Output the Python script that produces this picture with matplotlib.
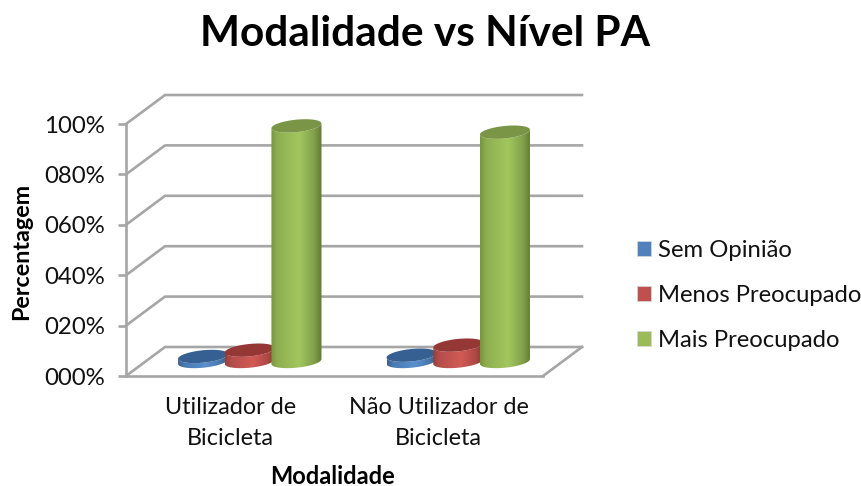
import numpy as np
import matplotlib
matplotlib.use("Agg")
import matplotlib.pyplot as plt
from matplotlib.patches import Patch, Polygon

plt.rcParams['font.family'] = ['Lato', 'DejaVu Sans']

########## Data ##########
categories = ["Utilizador de\nBicicleta", "Não Utilizador de\nBicicleta"]
series_names = ["Sem Opinião", "Menos Preocupado", "Mais Preocupado"]
sem_opiniao = [2.0, 2.5]
menos_preocupado = [4.5, 6.5]
mais_preocupado = [93.5, 91.0]
y_ticks = [0, 20, 40, 60, 80, 100]
y_labels = ["000%", "020%", "040%", "060%", "080%", "100%"]

########## Style ##########
W, H = 861, 486
GRID = "#a6a6a6"
LW = 1.9
#             edge L     mid        edge R     top        legend
STYLE = [("#3a6395", "#5a90cf", "#35597f", "#376092", "#4f81bd"),
         ("#96403e", "#d25a56", "#853533", "#953735", "#c0504d"),
         ("#78953f", "#a3c75f", "#627a34", "#7a9545", "#9bbb59")]

# front plane of the box in pixels
LEFT, RIGHT, BOTTOM, TOP = 126, 543, 376, 124
DEPTH_X = 39 / (RIGHT - LEFT) * 2      # category units
DEPTH_Y = 29 / (BOTTOM - TOP) * 100    # percent units
OFFSET = 0.224
HALF_W = 0.112
ROUND = 0.23


def hex_rgb(c):
    return np.array(matplotlib.colors.to_rgb(c))


def cylinder(ax, x, value, style):
    cx = x + DEPTH_X / 2
    base = DEPTH_Y / 2
    bx = ROUND * DEPTH_X
    by = ROUND * DEPTH_Y
    t0 = np.arctan2(bx, HALF_W)
    t = np.linspace(t0 - np.pi, t0, 60)
    xs = cx + HALF_W * np.cos(t) + bx * np.sin(t)
    ys = by * np.sin(t)
    pts = np.vstack([np.c_[xs, base + ys], np.c_[xs, base + value + ys][::-1]])
    side = Polygon(pts, closed=True, transform=ax.transData, fc="none", ec="none")
    ax.add_patch(side)

    # shaded side, dark at both edges
    stops = [0, 0.12, 0.55, 0.85, 1]
    cl, cm, cr = hex_rgb(style[0]), hex_rgb(style[1]), hex_rgb(style[2])
    cols = [cl, 0.5 * (cl + cm), cm, 0.5 * (cm + cr), cr]
    u = np.linspace(0, 1, 64)
    grad = np.stack([np.interp(u, stops, [c[i] for c in cols]) for i in range(3)], axis=1)
    im = ax.imshow(grad[np.newaxis, :, :], extent=[xs.min(), xs.max(), 0, base + value + by],
                   aspect="auto", interpolation="bilinear", zorder=3)
    im.set_clip_box(None)
    im.set_clip_path(side)

    # top ellipse
    tt = np.linspace(0, 2 * np.pi, 90)
    ax.fill(cx + HALF_W * np.cos(tt) + bx * np.sin(tt),
            base + value + by * np.sin(tt),
            color=style[3], lw=0, zorder=3, clip_on=False)


fig = plt.figure(figsize=(W / 100, H / 100), dpi=100)
ax = fig.add_axes([LEFT / W, 1 - BOTTOM / H, (RIGHT - LEFT) / W, (BOTTOM - TOP) / H])
ax.patch.set_alpha(0)

########## Box: walls and floor ##########
for v in y_ticks:
    ax.plot([0, DEPTH_X, 2 + DEPTH_X], [v, v + DEPTH_Y, v + DEPTH_Y],
            color=GRID, lw=LW, clip_on=False, zorder=1, solid_joinstyle="round")
ax.plot([2, 2 + DEPTH_X], [0, DEPTH_Y], color=GRID, lw=LW, clip_on=False, zorder=1)

########## Cylinders ##########
all_series = [sem_opiniao, menos_preocupado, mais_preocupado]
for i, vals in enumerate(all_series):
    for j, v in enumerate(vals):
        cylinder(ax, j + 0.5 + (i - 1) * OFFSET, v, STYLE[i])

ax.set_xlim(0, 2)
ax.set_ylim(0, 100)

########## Axes ##########
for s in ["top", "right"]:
    ax.spines[s].set_visible(False)
for s in ["left", "bottom"]:
    ax.spines[s].set_color(GRID)
    ax.spines[s].set_linewidth(LW)
ax.set_yticks(y_ticks)
ax.set_yticklabels(y_labels, fontsize=17.3, color="#111111")
ax.tick_params(axis="y", color=GRID, width=LW, length=6, pad=9)
ax.set_xticks([0.5, 1.5])
ax.set_xticklabels(categories, fontsize=16.8, color="#111111", linespacing=1.6)
ax.tick_params(axis="x", length=0, pad=15)

fig.text(425 / W, 1 - 34 / H, "Modalidade vs Nível PA", fontsize=30.5, fontweight="bold",
         ha="center", va="center", color="black")
fig.text(22 / W, 1 - 251 / H, "Percentagem", fontsize=16.8, fontweight="bold",
         rotation=90, ha="center", va="center", color="black")
fig.text(333 / W, 1 - 476 / H, "Modalidade", fontsize=17, fontweight="bold",
         ha="center", va="center", color="black")

########## Legend ##########
handles = [Patch(fc=s[4], ec="#d9d9d9", lw=0.5) for s in STYLE]
fig.legend(handles, series_names, loc="center left", bbox_to_anchor=(637 / W, 1 - 295.5 / H),
           frameon=False, fontsize=17.2, labelcolor="#111111", handlelength=0.59, handleheight=0.59,
           handletextpad=0.3, labelspacing=1.01, borderpad=0, borderaxespad=0)

fig.savefig("out.png", dpi=100)
